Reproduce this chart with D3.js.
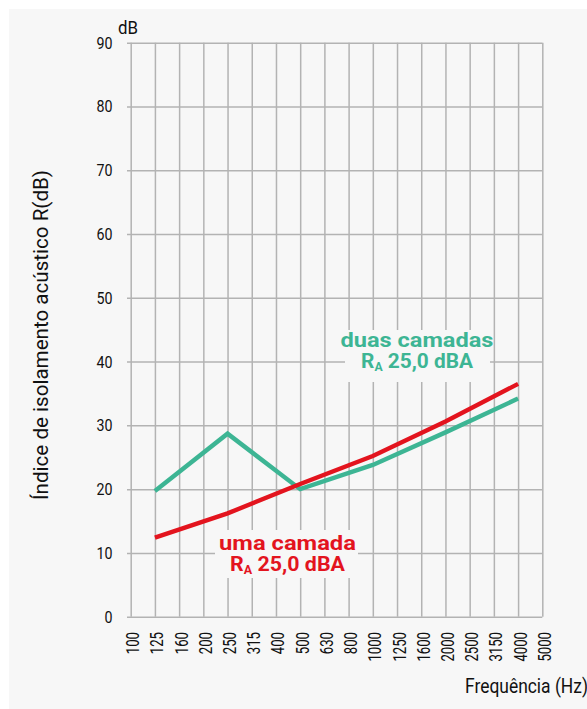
<!DOCTYPE html>
<html>
<head>
<meta charset="utf-8">
<script src="https://cdn.jsdelivr.net/npm/d3@7"></script>
<style>
  html, body { margin: 0; padding: 0; background: #ffffff; }
  svg { display: block; }
  text { font-family: "Roboto", "Liberation Sans", sans-serif; }
</style>
</head>
<body>
<svg id="chart" width="587" height="709"></svg>
<script>
// Third-octave band centre frequencies (Hz)
const frequencies = ["100","125","160","200","250","315","400","500","630","800","1000","1250","1600","2000","2500","3150","4000","5000"];
const yTicks = [0, 10, 20, 30, 40, 50, 60, 70, 80, 90];

// Sound reduction index R (dB) per octave band
const umaCamadaFreq = ["125","250","500","1000","2000","4000"];
const umaCamadaR    = [12.4, 16.2, 20.8, 25.2, 30.6, 36.5];
const duasCamadasFreq = ["125","250","500","1000","2000","4000"];
const duasCamadasR    = [19.7, 28.7, 20.0, 23.8, 28.9, 34.2];

const RED = "#e3141e";
const GREEN = "#3db594";
const GRID = "#b3b3b3";
const PANEL = "#f7f7f7";
const INK = "#111111";

const svg = d3.select("#chart");

// squeeze a text horizontally (in its own frame) around an anchor point
function condense(sel, width, ax, ay) {
  const w = sel.node().getComputedTextLength();
  const s = width / w;
  sel.attr("transform", `translate(${ax},${ay}) scale(${s},1) translate(${-ax},${-ay})`);
}

// light panel behind the chart
svg.append("rect").attr("x", 9).attr("y", 9).attr("width", 578).attr("height", 700).attr("fill", PANEL);

const x = d3.scalePoint().domain(frequencies).range([130.7, 542.3]);
const y = d3.scaleLinear().domain([0, 90]).range([616.7, 42.7]);

// grid: horizontal lines via the left axis, vertical lines via the bottom axis
const gy = svg.append("g").attr("transform", "translate(542.3,0)")
  .call(d3.axisLeft(y).tickValues(yTicks).tickSize(542.3 - 127).tickFormat(""));
gy.select(".domain").remove();
gy.selectAll("line").attr("stroke", GRID).attr("stroke-width", 1.5);

const gx = svg.append("g").attr("transform", "translate(0,616.7)")
  .call(d3.axisTop(x).tickSize(616.7 - 42.7).tickFormat(""));
gx.select(".domain").remove();
gx.selectAll("line").attr("stroke", GRID).attr("stroke-width", 1.5);

// y tick labels
svg.append("g").selectAll("text").data(yTicks).join("text")
  .attr("x", 112.5).attr("y", d => y(d)).attr("dy", "0.36em")
  .attr("text-anchor", "end").attr("font-size", 16.5).attr("fill", INK)
  .attr("textLength", d => String(d).length * 8).attr("lengthAdjust", "spacingAndGlyphs")
  .text(d => d);

// x tick labels (rotated)
svg.append("g").selectAll("text").data(frequencies).join("text")
  .attr("transform", d => `translate(${x(d) + 1.8},632) rotate(-90)`)
  .attr("dy", "0.37em")
  .attr("text-anchor", "end").attr("font-size", 18).attr("fill", INK)
  .attr("textLength", d => d.length * 7.4).attr("lengthAdjust", "spacingAndGlyphs")
  .text(d => d);

// axis titles
svg.append("text").attr("x", 118).attr("y", 33.5).attr("font-size", 18).attr("fill", INK)
  .attr("textLength", 20).attr("lengthAdjust", "spacingAndGlyphs").text("dB");
svg.append("text").attr("transform", "translate(47.5,335) rotate(-90)")
  .attr("text-anchor", "middle").attr("font-size", 21).attr("fill", INK)
  .attr("textLength", 330).attr("lengthAdjust", "spacingAndGlyphs")
  .text("Índice de isolamento acústico R(dB)");
svg.append("text").attr("x", 465).attr("y", 693).attr("font-size", 19.5).attr("fill", INK)
  .attr("textLength", 123).attr("lengthAdjust", "spacingAndGlyphs")
  .text("Frequência (Hz)");

// series lines
const line = d3.line().x(d => x(d[0])).y(d => y(d[1]));
svg.append("path").datum(d3.zip(duasCamadasFreq, duasCamadasR))
  .attr("d", line).attr("fill", "none").attr("stroke", GREEN).attr("stroke-width", 4.4).attr("stroke-linejoin", "miter");
svg.append("path").datum(d3.zip(umaCamadaFreq, umaCamadaR))
  .attr("d", line).attr("fill", "none").attr("stroke", RED).attr("stroke-width", 4.4).attr("stroke-linejoin", "miter");

// series labels with a panel-coloured backing
function seriesLabel(cx, base, box, name, nameW, ratingW, color) {
  const g = svg.append("g");
  g.append("rect").attr("x", box[0]).attr("y", box[1]).attr("width", box[2]).attr("height", box[3]).attr("fill", PANEL);
  const t1 = g.append("text").attr("x", cx).attr("y", base).attr("text-anchor", "middle")
    .attr("font-size", 21).attr("font-weight", "bold").attr("fill", color).text(name);
  condense(t1, nameW, cx, base);
  const t2 = g.append("text").attr("x", cx).attr("y", base + 20.5).attr("text-anchor", "middle")
    .attr("font-size", 20.5).attr("font-weight", "bold").attr("fill", color);
  t2.append("tspan").text("R");
  t2.append("tspan").attr("font-size", 12).attr("dy", 3).text("A");
  t2.append("tspan").attr("dy", -3).text(" 25,0 dBA");
  condense(t2, ratingW, cx, base + 20.5);
}
seriesLabel(417, 347.5, [345, 330, 145, 52], "duas camadas", 153, 112, GREEN);
seriesLabel(287.5, 550.5, [215, 530, 143, 48], "uma camada", 137, 115, RED);
</script>
</body>
</html>
